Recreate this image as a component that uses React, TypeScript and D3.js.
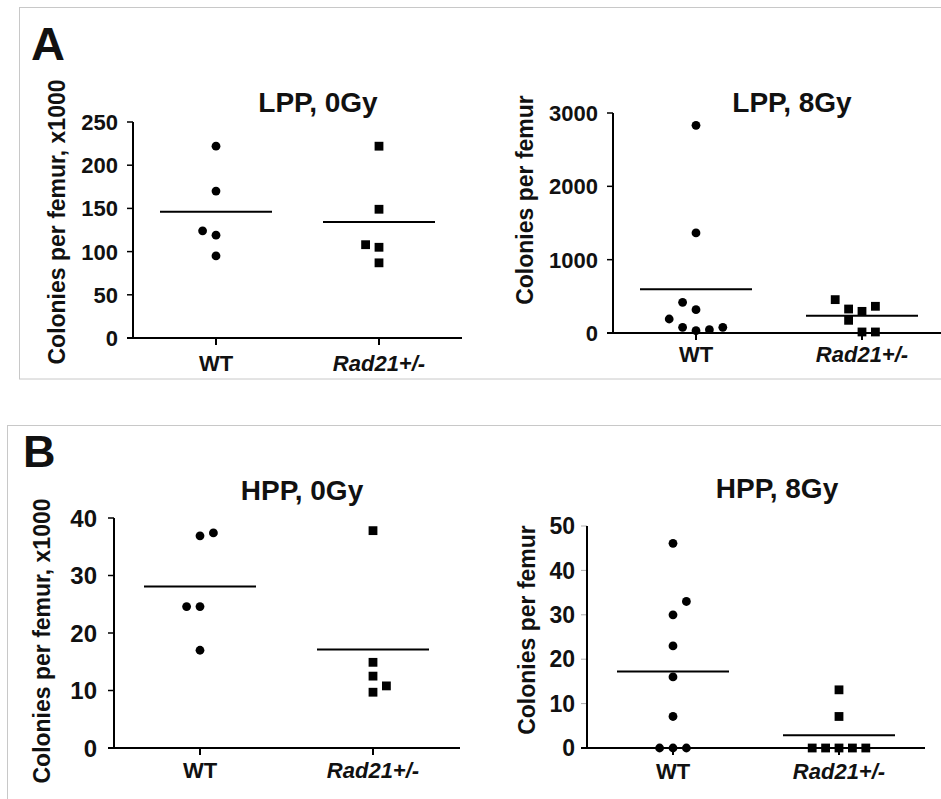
import React from "react";
import * as d3 from "d3";

const groups = ["WT", "Rad21+/-"];

// values, slots = horizontal dodge position in the column
const lpp0Wt = [222, 170, 124, 119, 95];
const lpp0WtSlots = [0, 0, -1, 0, 0];
const lpp0Rad = [222, 149, 108, 105, 87];
const lpp0RadSlots = [0, 0, -1, 0, 0];

const lpp8Wt = [2832, 1364, 418, 318, 191, 77, 32, 45, 77];
const lpp8WtSlots = [0, 0, -1, 0, -2, -1, 0, 1, 2];
const lpp8Rad = [455, 327, 295, 364, 173, 14, 14];
const lpp8RadSlots = [-2, -1, 0, 1, -1, 0, 1];

const hpp0Wt = [36.9, 37.4, 24.6, 24.6, 17.0];
const hpp0WtSlots = [0, 1, -1, 0, 0];
const hpp0Rad = [37.8, 14.9, 12.5, 10.8, 9.7];
const hpp0RadSlots = [0, 0, 0, 1, 0];

const hpp8Wt = [46.1, 33, 30, 23, 16, 7.1, 0, 0, 0];
const hpp8WtSlots = [0, 1, 0, 0, 0, 0, -1, 0, 1];
const hpp8Rad = [13.1, 7.1, 0, 0, 0, 0, 0];
const hpp8RadSlots = [0, 0, -2, -1, 0, 1, 2];

const lpp0Ticks = [0, 50, 100, 150, 200, 250];
const lpp8Ticks = [0, 1000, 2000, 3000];
const hpp0Ticks = [0, 10, 20, 30, 40];
const hpp8Ticks = [0, 10, 20, 30, 40, 50];

const FONT = "'Liberation Sans', Arial, sans-serif";

type PanelProps = {
  title: string;
  yLabel: string;
  domain: [number, number];
  ticks: number[];
  wt: number[];
  wtSlots: number[];
  rad: number[];
  radSlots: number[];
  axisX: number;
  yTop: number;
  yBottom: number;
  xEnd: number;
  groupX: [number, number];
  titleX: number;
  titleY: number;
  yLabelX: number;
  yLabelY: number;
  xLabelY: number;
  tickGap?: number;
  tickColor?: string;
  tickFont?: number;
};

const Panel = (p: PanelProps) => {
  const y = d3.scaleLinear().domain(p.domain).range([p.yBottom, p.yTop]);
  const x = d3.scalePoint<string>().domain(groups).range(p.groupX);
  const slotW = 13.4;
  const halfMean = 56;
  const gap = p.tickGap ?? 15;
  const tickColor = p.tickColor ?? "#000";

  const series = [
    { key: groups[0], vals: p.wt, slots: p.wtSlots, shape: "circle" },
    { key: groups[1], vals: p.rad, slots: p.radSlots, shape: "square" },
  ];

  return (
    <g fontFamily={FONT} fontWeight="bold" fill="#111">
      <text x={p.titleX} y={p.titleY} textAnchor="middle" fontSize={28}>
        {p.title}
      </text>
      <text
        transform={`translate(${p.yLabelX},${p.yLabelY}) rotate(-90)`}
        textAnchor="middle"
        dy="0.35em"
        fontSize={23}
      >
        {p.yLabel}
      </text>

      {/* y axis */}
      {p.ticks.map((t) => (
        <g key={t}>
          <line
            x1={p.axisX - 6}
            x2={p.axisX}
            y1={y(t)}
            y2={y(t)}
            stroke={tickColor}
            strokeWidth={tickColor === "#000" ? 1.5 : 1}
          />
          <text
            x={p.axisX - gap}
            y={y(t)}
            dy="0.36em"
            textAnchor="end"
            fontSize={p.tickFont ?? 22}
          >
            {t}
          </text>
        </g>
      ))}
      <line
        x1={p.axisX}
        x2={p.axisX}
        y1={p.yTop}
        y2={p.yBottom}
        stroke="#000"
        strokeWidth={2}
      />
      <line
        x1={p.axisX - 6}
        x2={p.xEnd}
        y1={p.yBottom}
        y2={p.yBottom}
        stroke="#000"
        strokeWidth={2}
      />

      {/* x ticks and labels */}
      {groups.map((g) => (
        <g key={g}>
          <line
            x1={x(g)}
            x2={x(g)}
            y1={p.yBottom}
            y2={p.yBottom + 7}
            stroke="#000"
            strokeWidth={2}
          />
          <text
            x={x(g)}
            y={p.xLabelY}
            textAnchor="middle"
            fontSize={22}
            fontStyle={g === "WT" ? "normal" : "italic"}
          >
            {g}
          </text>
        </g>
      ))}

      {/* points + mean lines */}
      {series.map((s) => {
        const cx = x(s.key) as number;
        const m = d3.mean(s.vals) as number;
        return (
          <g key={s.key}>
            <line
              x1={cx - halfMean}
              x2={cx + halfMean}
              y1={y(m)}
              y2={y(m)}
              stroke="#000"
              strokeWidth={2}
            />
            {s.vals.map((v, i) => {
              const px = cx + s.slots[i] * slotW;
              const py = y(v);
              return s.shape === "circle" ? (
                <circle key={i} cx={px} cy={py} r={4.4} fill="#000" />
              ) : (
                <rect
                  key={i}
                  x={px - 4.4}
                  y={py - 4.4}
                  width={8.8}
                  height={8.8}
                  fill="#000"
                />
              );
            })}
          </g>
        );
      })}
    </g>
  );
};

export default function App() {
  return (
    <svg
      width={941}
      height={799}
      style={{ position: "absolute", left: 0, top: 0, background: "#fff" }}
    >
      <rect x={0} y={0} width={941} height={799} fill="#fff" />
      <rect
        x={19.5}
        y={7.5}
        width={930}
        height={371.5}
        fill="none"
        stroke="#c8c8c8"
        strokeWidth={1}
      />
      <rect
        x={7.5}
        y={425.5}
        width={940}
        height={400}
        fill="none"
        stroke="#c8c8c8"
        strokeWidth={1}
      />
      <text x={31} y={60} fontFamily={FONT} fontWeight="bold" fontSize={47} fill="#111">
        A
      </text>
      <text x={23} y={467} fontFamily={FONT} fontWeight="bold" fontSize={45} fill="#111">
        B
      </text>

      <Panel
        title="LPP, 0Gy"
        yLabel="Colonies per femur, x1000"
        domain={[0, 250]}
        ticks={lpp0Ticks}
        wt={lpp0Wt}
        wtSlots={lpp0WtSlots}
        rad={lpp0Rad}
        radSlots={lpp0RadSlots}
        axisX={133}
        yTop={122}
        yBottom={338}
        xEnd={462}
        groupX={[216, 379]}
        titleX={318}
        titleY={112}
        yLabelX={57}
        yLabelY={222}
        xLabelY={371}
      />
      <Panel
        title="LPP, 8Gy"
        yLabel="Colonies per femur"
        domain={[0, 3000]}
        ticks={lpp8Ticks}
        wt={lpp8Wt}
        wtSlots={lpp8WtSlots}
        rad={lpp8Rad}
        radSlots={lpp8RadSlots}
        axisX={613}
        yTop={113}
        yBottom={333}
        xEnd={941}
        groupX={[696, 862]}
        titleX={792}
        titleY={112}
        yLabelX={525}
        yLabelY={200}
        xLabelY={362}
      />
      <Panel
        title="HPP, 0Gy"
        yLabel="Colonies per femur, x1000"
        domain={[0, 40]}
        ticks={hpp0Ticks}
        wt={hpp0Wt}
        wtSlots={hpp0WtSlots}
        rad={hpp0Rad}
        radSlots={hpp0RadSlots}
        axisX={114}
        yTop={518}
        yBottom={748}
        xEnd={460}
        groupX={[200, 373]}
        titleX={302}
        titleY={500}
        yLabelX={42}
        yLabelY={641}
        xLabelY={778}
        tickGap={17}
        tickFont={24}
      />
      <Panel
        title="HPP, 8Gy"
        yLabel="Colonies per femur"
        domain={[0, 50]}
        ticks={hpp8Ticks}
        wt={hpp8Wt}
        wtSlots={hpp8WtSlots}
        rad={hpp8Rad}
        radSlots={hpp8RadSlots}
        axisX={587}
        yTop={526}
        yBottom={748}
        xEnd={925}
        groupX={[673, 839]}
        titleX={777}
        titleY={498}
        yLabelX={527}
        yLabelY={630}
        xLabelY={779}
        tickGap={12}
        tickColor="#aaa"
        tickFont={23}
      />
    </svg>
  );
}
